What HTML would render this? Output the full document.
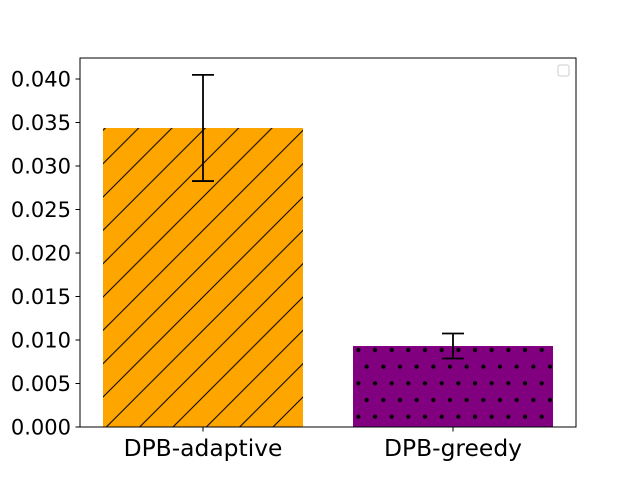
<!DOCTYPE html>
<html><head><meta charset="utf-8"><style>body{margin:0;background:#fff}svg{display:block;font-family:"DejaVu Sans","Liberation Sans",sans-serif}</style></head>
<body>
<svg id="chart" width="640" height="480">
<defs>
<pattern id="hatch" patternUnits="userSpaceOnUse" width="33.333" height="33.333">
<line x1="0" y1="33.333" x2="33.333" y2="0" stroke="#000" stroke-width="1"/>
<line x1="-5" y1="5" x2="5" y2="-5" stroke="#000" stroke-width="1"/>
<line x1="28.333" y1="38.333" x2="38.333" y2="28.333" stroke="#000" stroke-width="1"/>
</pattern>
<pattern id="dots" patternUnits="userSpaceOnUse" width="16.667" height="33.333">
<circle cx="8.333" cy="16.667" r="2.1" fill="#000"/>
<circle cx="0" cy="0" r="2.1" fill="#000"/><circle cx="16.667" cy="0" r="2.1" fill="#000"/>
<circle cx="0" cy="33.333" r="2.1" fill="#000"/><circle cx="16.667" cy="33.333" r="2.1" fill="#000"/>
</pattern>
</defs>
<g id="plot"></g>
<rect x="558" y="65" width="11" height="11" rx="2" fill="#fff" stroke="#ccc"/>
</svg>
<script>
const categories = ["DPB-adaptive", "DPB-greedy"];
const values = [0.03437, 0.00931];
const errors = [0.0061, 0.00144];
const yTicks = [0, 0.005, 0.010, 0.015, 0.020, 0.025, 0.030, 0.035, 0.040];
const yTickLabels = ["0.000","0.005","0.010","0.015","0.020","0.025","0.030","0.035","0.040"];
const fills = ["url(#hatch)", "url(#dots)"];
const bases = ["#ffa500", "#800080"];

const L=80,R=576,T=58,B=427;
const y = v => B - v/0.040*(B-79);
const x = i => 103 + i*250;
const bw = 200;
const NS="http://www.w3.org/2000/svg";
const g=document.getElementById('plot');
function mk(tag,attrs,parent){const e=document.createElementNS(NS,tag);for(const k in attrs)e.setAttribute(k,attrs[k]);(parent||g).appendChild(e);return e;}

categories.forEach((c,i)=>{
  const top=y(values[i]);
  const b=mk('rect',{x:x(i),y:top,width:bw,height:B-top,fill:bases[i]});
  
  
  const h=mk('rect',{x:x(i),y:top,width:bw,height:B-top,fill:fills[i]});
  
  
  const cx=x(i)+bw/2, y1=y(values[i]+errors[i]), y2=y(values[i]-errors[i]);
  const eg=mk('g',{stroke:'#000','stroke-width':1.8});
  
  
  mk('line',{x1:cx,x2:cx,y1:y1,y2:y2},eg);
  mk('line',{x1:cx-11,x2:cx+11,y1:y1,y2:y1},eg);
  mk('line',{x1:cx-11,x2:cx+11,y1:y2,y2:y2},eg);
  mk('line',{x1:cx,x2:cx,y1:B,y2:B+4.5,stroke:'#000','stroke-width':1});
  const t=mk('text',{x:cx,y:456,'text-anchor':'middle','font-size':23.4});
  t.textContent=c;
  
  
});
yTicks.forEach((v,i)=>{
  const yy=y(v);
  mk('line',{x1:L-4.5,x2:L,y1:yy,y2:yy,stroke:'#000','stroke-width':1});
  const t=mk('text',{x:71,y:yy+7.5,'text-anchor':'end','font-size':21});
  t.textContent=yTickLabels[i];
  
  
});
const ax=mk('rect',{x:L,y:T,width:R-L,height:B-T,fill:'none',stroke:'#000','stroke-width':1});


</script>
</body></html>
